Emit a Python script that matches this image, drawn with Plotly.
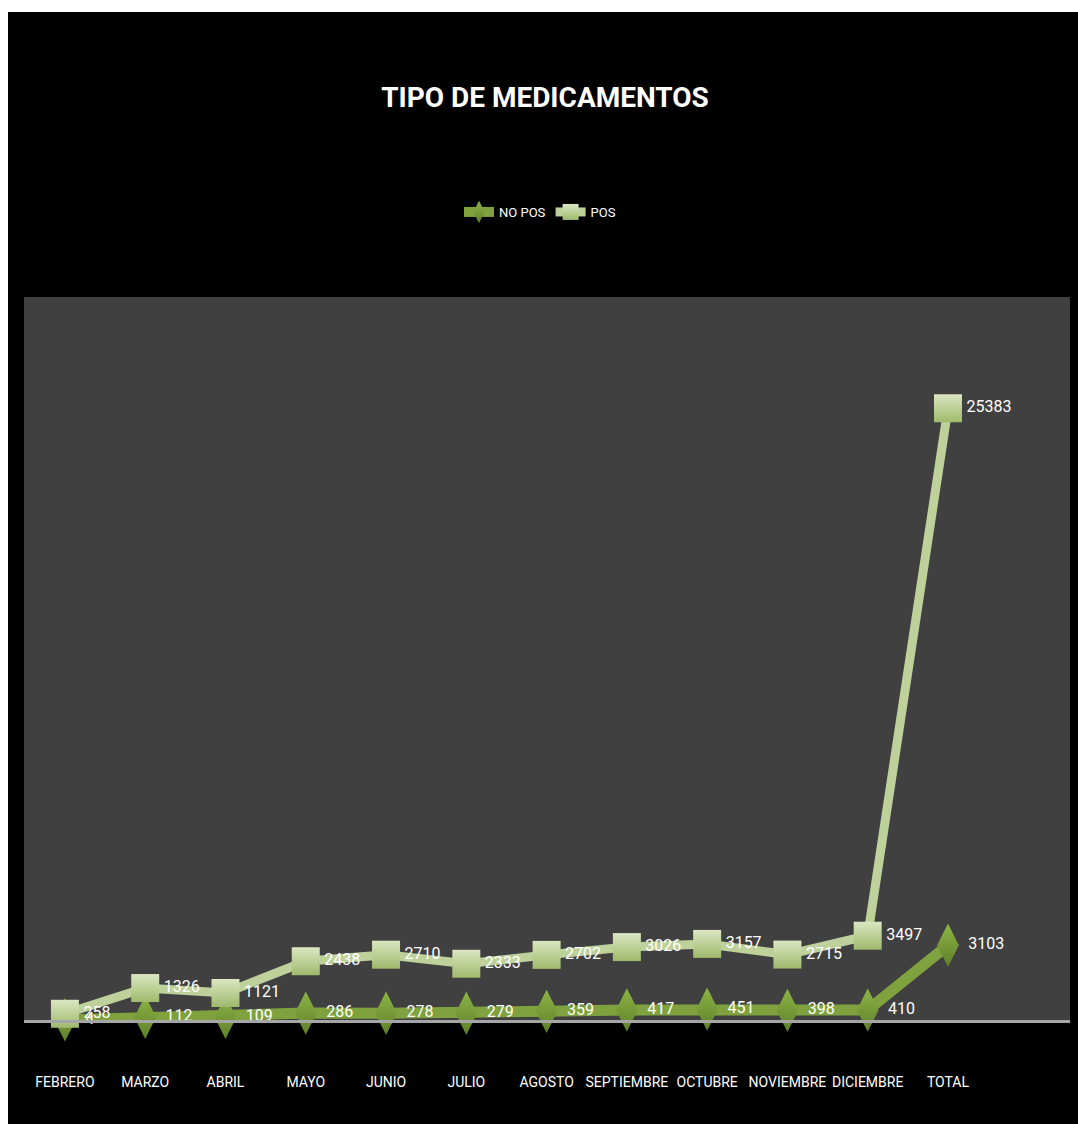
import plotly.graph_objects as go

# Monthly counts of dispensed medicines by type
categorias = ["FEBRERO", "MARZO", "ABRIL", "MAYO", "JUNIO", "JULIO", "AGOSTO",
              "SEPTIEMBRE", "OCTUBRE", "NOVIEMBRE", "DICIEMBRE", "TOTAL"]
no_pos = [4, 112, 109, 286, 278, 279, 359, 417, 451, 398, 410, 3103]
pos = [258, 1326, 1121, 2438, 2710, 2333, 2702, 3026, 3157, 2715, 3497, 25383]

FONT = "Roboto, Liberation Sans, sans-serif"
W, H = 1078, 1124
L, R, T, B = 24, 8, 297, 104
PW, PH = W - L - R, H - T - B

fig = go.Figure()

fig.add_trace(go.Scatter(
    x=categorias, y=no_pos, name="NO POS",
    mode="lines+markers+text",
    line=dict(color="#7fa23e", width=11),
    marker=dict(symbol="diamond-tall", size=31, color="#8cb545",
                gradient=dict(type="vertical", color="#5f7f2a"),
                line=dict(width=0)),
    text=[str(v) for v in no_pos], textposition="middle right",
    textfont=dict(family=FONT, size=16, color="white"),
    cliponaxis=False,
))

fig.add_trace(go.Scatter(
    x=categorias, y=pos, name="POS",
    mode="lines+markers+text",
    line=dict(color="#bfd19a", width=9),
    marker=dict(symbol="square", size=28, color="#dbe7c2",
                gradient=dict(type="vertical", color="#9fb96c"),
                line=dict(width=0)),
    text=[str(v) for v in pos], textposition="middle right",
    textfont=dict(family=FONT, size=16, color="white"),
    cliponaxis=False,
))

def px_x(p):
    return (p - L) / PW

def px_y(p):
    return (H - B - p) / PH

# thin white margins at the top and left edges of the page
shapes = [
    dict(type="rect", xref="paper", yref="paper", x0=px_x(0), x1=px_x(W),
         y0=px_y(12), y1=px_y(0), fillcolor="white", line=dict(width=0), layer="below"),
    dict(type="rect", xref="paper", yref="paper", x0=px_x(0), x1=px_x(8),
         y0=px_y(H), y1=px_y(0), fillcolor="white", line=dict(width=0), layer="below"),
]

fig.update_layout(
    width=W, height=H,
    margin=dict(l=L, r=R, t=T, b=B, pad=0, autoexpand=False),
    paper_bgcolor="black",
    plot_bgcolor="#404040",
    shapes=shapes,
    title=dict(text="<b>TIPO DE MEDICAMENTOS</b>", x=545 / W, xref="container",
               xanchor="center", y=1 - 97 / H, yref="container", yanchor="middle",
               font=dict(family=FONT, size=28, color="white")),
    legend=dict(orientation="h", x=px_x(540), xanchor="center",
                y=px_y(212), yanchor="middle", bgcolor="rgba(0,0,0,0)",
                font=dict(family=FONT, size=13, color="white"),
                itemwidth=30, tracegroupgap=0),
    showlegend=True,
    xaxis=dict(type="category", range=[-0.51, 12.52], showgrid=False,
               zeroline=False, showline=True, linecolor="#a6a6a6", linewidth=3,
               ticks="outside", ticklen=47, tickcolor="rgba(0,0,0,0)",
               tickangle=0, automargin=False,
               tickfont=dict(family=FONT, size=14, color="white")),
    yaxis=dict(range=[0, 30000], showgrid=False, zeroline=False,
               showticklabels=False, showline=False, automargin=False),
)

fig.write_html("out.html")
